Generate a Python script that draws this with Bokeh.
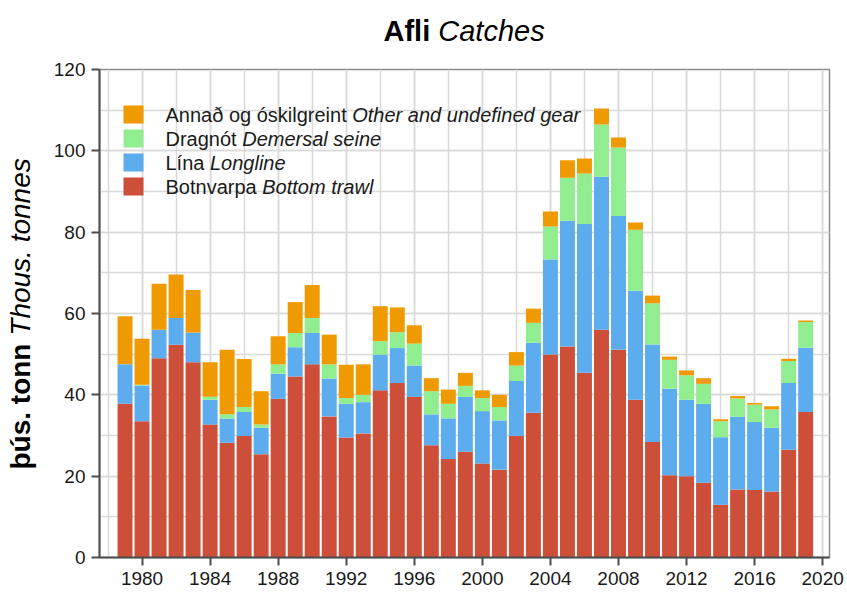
import math
from bokeh.plotting import figure
from bokeh.models import ColumnDataSource, Label, BoxAnnotation, SingleIntervalTicker, Range1d
from bokeh.layouts import column, row
from bokeh.embed import file_html
from bokeh.resources import INLINE

# ---------------- data (thousand tonnes) ----------------
years = list(range(1979, 2020))
bottom_trawl = [37.8, 33.5, 49.0, 52.3, 48.0, 32.7, 28.2, 29.9, 25.4, 39.0,
                44.5, 47.5, 34.7, 29.5, 30.5, 41.1, 42.9, 39.5, 27.6, 24.2,
                26.0, 23.1, 21.6, 29.9, 35.6, 49.9, 51.9, 45.4, 56.0, 51.1,
                38.8, 28.4, 20.2, 20.0, 18.4, 13.0, 16.7, 16.6, 16.2, 26.5, 35.8]
longline = [9.7, 8.8, 7.0, 6.6, 7.3, 6.1, 6.0, 5.9, 6.5, 6.2,
            7.2, 7.7, 9.3, 8.3, 7.7, 8.8, 8.6, 7.7, 7.6, 10.0,
            13.5, 12.9, 12.1, 13.5, 17.2, 23.4, 30.9, 36.6, 37.6, 32.9,
            26.8, 24.0, 21.3, 18.8, 19.4, 16.6, 17.9, 16.7, 15.7, 16.4, 15.8]
demersal_seine = [0.0, 0.2, 0.0, 0.0, 0.0, 0.7, 1.0, 1.2, 0.8, 2.3,
                  3.5, 3.7, 3.5, 1.4, 1.8, 3.3, 3.9, 5.4, 5.7, 3.6,
                  2.7, 3.2, 3.3, 3.8, 4.9, 8.1, 10.6, 12.4, 12.9, 16.8,
                  15.0, 10.1, 7.1, 6.0, 4.9, 3.9, 4.5, 4.3, 4.5, 5.4, 6.3]
other = [11.8, 11.3, 11.3, 10.7, 10.5, 8.5, 15.9, 11.8, 8.2, 6.9,
         7.6, 8.1, 7.3, 8.2, 7.5, 8.6, 6.1, 4.5, 3.2, 3.5,
         3.2, 1.9, 3.0, 3.3, 3.5, 3.7, 4.3, 3.7, 3.9, 2.5,
         1.8, 1.9, 0.8, 1.2, 1.4, 0.5, 0.6, 0.4, 0.8, 0.6, 0.4]

series_keys = ["bottom_trawl", "longline", "demersal_seine", "other"]
series_colors = ["#CD4F39", "#5CACEE", "#90EE90", "#EE9A00"]
legend_normal = ["Annað og óskilgreint", "Dragnót", "Lína", "Botnvarpa"]
legend_italic = ["Other and undefined gear", "Demersal seine", "Longline", "Bottom trawl"]
legend_colors = ["#EE9A00", "#90EE90", "#5CACEE", "#CD4F39"]
title_bold, title_italic = "Afli", "Catches"
ylab_bold, ylab_italic = "þús. tonn", "Thous. tonnes"

FONT = "Liberation Sans"

# Arial / Helvetica advance widths (per 1000 em) to place mixed-style texts
REG = {" ": 278, ".": 278, "A": 667, "B": 667, "C": 722, "D": 722, "L": 556, "O": 778,
       "T": 611, "a": 556, "b": 556, "c": 500, "d": 556, "e": 556, "f": 278, "g": 556,
       "h": 556, "i": 222, "k": 500, "l": 222, "m": 833, "n": 556, "o": 556, "p": 556,
       "r": 333, "s": 500, "t": 278, "u": 556, "v": 500, "w": 722, "ð": 556, "ó": 556,
       "í": 278, "ú": 556, "þ": 556}
BOLD = {" ": 278, ".": 278, "A": 722, "f": 333, "l": 278, "i": 278, "þ": 611, "ú": 611,
        "s": 556, "t": 333, "o": 611, "n": 611}


def text_width(s, size, bold=False):
    table = BOLD if bold else REG
    return sum(table.get(ch, 556) for ch in s) * size / 1000.0


def blank_fig(w, h):
    f = figure(width=w, height=h, x_range=Range1d(0, w), y_range=Range1d(0, h),
               output_backend="svg", toolbar_location=None, x_axis_type=None,
               y_axis_type=None, min_border=0)
    f.outline_line_color = None
    f.grid.visible = False
    f.background_fill_color = "white"
    f.border_fill_color = "white"
    return f


src = ColumnDataSource(dict(year=years, bottom_trawl=bottom_trawl, longline=longline,
                            demersal_seine=demersal_seine, other=other))

TOTAL_W, TOTAL_H = 845, 590
TITLE_H = 50
YLAB_W = 50
FRAME_L, FRAME_R, FRAME_T, FRAME_B = 99, 829, 69, 557   # frame edges in page pixels

PW = TOTAL_W - YLAB_W
PH = TOTAL_H - TITLE_H
FL = FRAME_L - YLAB_W
FR = TOTAL_W - FRAME_R
FT = FRAME_T - TITLE_H
FB = TOTAL_H - FRAME_B
FH = FRAME_B - FRAME_T

p = figure(width=PW, height=PH, x_range=Range1d(1977.5, 2020.4), y_range=Range1d(0, 120),
           output_backend="svg", toolbar_location=None,
           min_border_left=FL, min_border_right=FR, min_border_top=FT, min_border_bottom=FB)
p.background_fill_color = "white"
p.border_fill_color = "white"
p.outline_line_color = "#8c8c8c"
p.outline_line_width = 1.5

p.vbar_stack(series_keys, x="year", width=0.88, color=series_colors, line_color=None, source=src)

p.xaxis.ticker = SingleIntervalTicker(interval=4, num_minor_ticks=2)
p.yaxis.ticker = SingleIntervalTicker(interval=20, num_minor_ticks=2)
for g in (p.xgrid, p.ygrid):
    g.grid_line_color = "#d9d9d9"
    g.grid_line_width = 1.5
    g.minor_grid_line_color = "#d9d9d9"
    g.minor_grid_line_width = 1.5
for ax in (p.xaxis, p.yaxis):
    ax.axis_line_color = "#4d4d4d"
    ax.axis_line_width = 2
    ax.major_tick_line_color = "#4d4d4d"
    ax.major_tick_line_width = 2
    ax.major_tick_out = 8
    ax.major_tick_in = 0
    ax.minor_tick_line_color = None
    ax.major_label_text_font = FONT
    ax.major_label_text_font_size = "19px"
    ax.major_label_text_color = "#1a1a1a"
    ax.major_label_standoff = 6

# ---------- legend (inside plot frame) ----------
lsize = 20
for i, (n, it, c) in enumerate(zip(legend_normal, legend_italic, legend_colors)):
    cy = FH - 45 - 24 * i
    p.add_layout(BoxAnnotation(left=24, right=44, bottom=cy - 9, top=cy + 9,
                               left_units="screen", right_units="screen",
                               bottom_units="screen", top_units="screen",
                               fill_color=c, fill_alpha=1.0, line_color=None))
    p.add_layout(Label(x=66, y=cy, x_units="screen", y_units="screen", text=n,
                       text_font=FONT, text_font_size=f"{lsize}px", text_baseline="middle",
                       text_color="#1a1a1a"))
    p.add_layout(Label(x=66 + text_width(n + " ", lsize), y=cy, x_units="screen",
                       y_units="screen", text=it, text_font=FONT,
                       text_font_size=f"{lsize}px", text_font_style="italic",
                       text_baseline="middle", text_color="#1a1a1a"))

# ---------- title strip (bold + italic) ----------
tfig = blank_fig(TOTAL_W, TITLE_H)
tsize = 29
tx, ty = 383, 20
tfig.add_layout(Label(x=tx, y=ty, x_units="screen", y_units="screen", text=title_bold,
                      text_font=FONT, text_font_size=f"{tsize}px", text_font_style="bold",
                      text_baseline="alphabetic", text_color="black"))
tfig.add_layout(Label(x=tx + text_width(title_bold + " ", tsize, True), y=ty,
                      x_units="screen", y_units="screen", text=title_italic,
                      text_font=FONT, text_font_size=f"{tsize}px", text_font_style="italic",
                      text_baseline="alphabetic", text_color="black"))

# ---------- y label strip (bold + italic, rotated) ----------
yfig = blank_fig(YLAB_W, PH)
ysize = 28
yx, yy = 20, 88
yfig.add_layout(Label(x=yx, y=yy, x_units="screen", y_units="screen", text=ylab_bold,
                      angle=math.pi / 2, text_font=FONT, text_font_size=f"{ysize}px",
                      text_font_style="bold", text_baseline="alphabetic", text_align="left",
                      text_color="black"))
yfig.add_layout(Label(x=yx, y=yy + text_width(ylab_bold + " ", ysize, True), x_units="screen",
                      y_units="screen", text=ylab_italic, angle=math.pi / 2, text_font=FONT,
                      text_font_size=f"{ysize}px", text_font_style="italic",
                      text_baseline="alphabetic", text_align="left", text_color="black"))

layout = column(tfig, row(yfig, p, spacing=0), spacing=0)
open("out.html", "w").write(file_html(layout, INLINE))
